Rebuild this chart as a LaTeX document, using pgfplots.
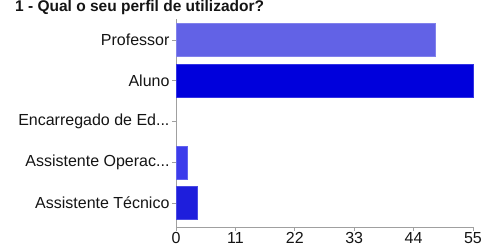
\documentclass[border=0pt]{standalone}
\usepackage{pgfplots}
\pgfplotsset{compat=1.18}
\usepackage{fontspec}
\setmainfont{Liberation Sans}
\definecolor{cprof}{RGB}{98,98,230}
\definecolor{caluno}{RGB}{0,0,220}
\definecolor{coper}{RGB}{60,60,235}
\definecolor{ctec}{RGB}{30,30,220}
\definecolor{txt}{RGB}{20,20,20}
\definecolor{axc}{RGB}{160,160,160}
\newcommand{\dd}{.\kern0pt.\kern0pt.}
\begin{document}
\begin{tikzpicture}[x=1pt,y=1pt]
\path[use as bounding box] (0,0) rectangle (487,248);
\node[anchor=base west, inner sep=0pt, text=txt, font=\fontsize{15.5}{17}\selectfont\bfseries] at (15,236) {1 - Qual o seu perfil de utilizador?};
\begin{axis}[
  at={(176pt,21pt)}, anchor=south west,
  scale only axis, width=297pt, height=208pt,
  xmin=0, xmax=55, ymin=-0.59, ymax=4.515,
  xtick={0,11,22,33,44,55},
  ytick={0,1,2,3,4},
  yticklabels={{Assistente Técnico}, {Assistente Operac\dd}, {Encarregado de Ed\dd}, {Aluno}, {Professor}},
  axis x line*=bottom, axis y line*=left,
  axis line style={axc, -},
  tick style={axc, line width=0.6pt},
  major tick length=4pt,
  tick align=outside,
  xbar, bar width=33pt, bar shift=0pt,
  /pgf/number format/assume math mode=true,
  ticklabel style={text=txt},
  yticklabel style={font=\fontsize{16}{18}\selectfont, xshift=1pt},
  xticklabel style={font=\fontsize{16}{18}\selectfont, yshift=2pt},
  clip=false,
]
\addplot[fill=cprof, draw=cprof!80!white] coordinates {(48,4)};
\addplot[fill=caluno, draw=caluno!80!white] coordinates {(55,3)};
\addplot[fill=coper, draw=coper!80!white] coordinates {(2,1)};
\addplot[fill=ctec, draw=ctec!80!white] coordinates {(4,0)};
\end{axis}
\end{tikzpicture}
\end{document}
